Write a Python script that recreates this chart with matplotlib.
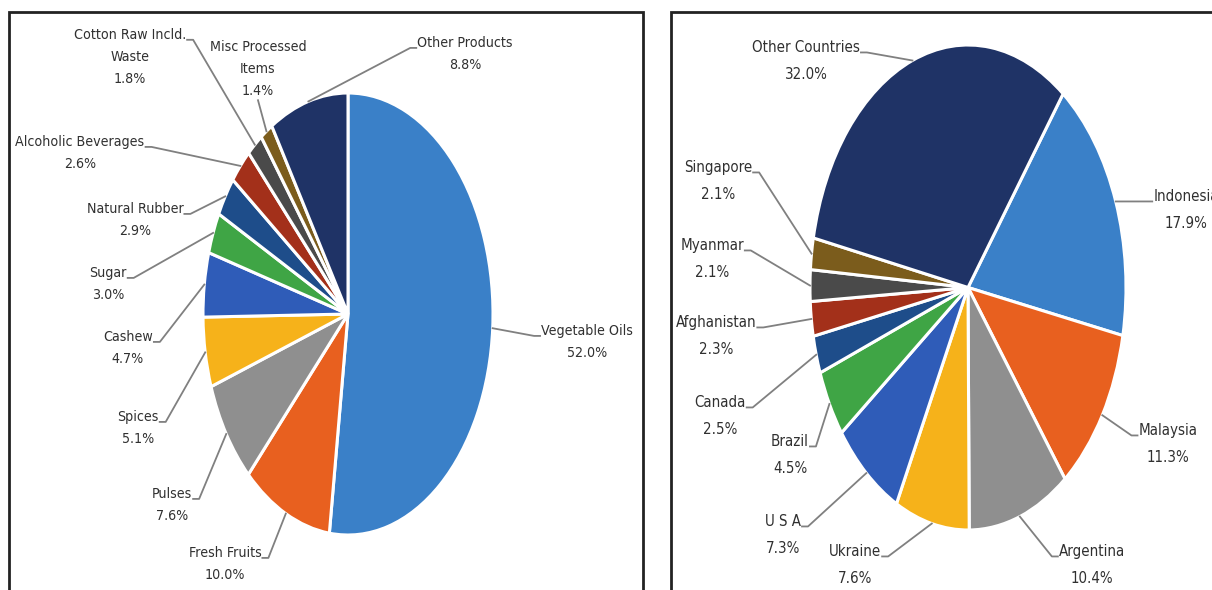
import numpy as np
import matplotlib
matplotlib.use("Agg")
import matplotlib.pyplot as plt
from matplotlib.lines import Line2D
from matplotlib.patches import Rectangle

plt.rcParams['font.family'] = ['Liberation Sans Narrow', 'DejaVu Sans']

# ---- data: left pie (products) ----
prod_names = ["Vegetable Oils", "Fresh Fruits", "Pulses", "Spices", "Cashew", "Sugar",
              "Natural Rubber", "Alcoholic Beverages", "Cotton Raw Incld.\nWaste",
              "Misc Processed\nItems", "Other Products"]
prod_share = [52.0, 10.0, 7.6, 5.1, 4.7, 3.0, 2.9, 2.6, 1.8, 1.4, 8.8]

# ---- data: right pie (countries) ----
ctry_names = ["Indonesia", "Malaysia", "Argentina", "Ukraine", "U S A", "Brazil",
              "Canada", "Afghanistan", "Myanmar", "Singapore", "Other Countries"]
ctry_share = [17.9, 11.3, 10.4, 7.6, 7.3, 4.5, 2.5, 2.3, 2.1, 2.1, 32.0]

colors = ["#3A80C8", "#E8601F", "#8F8F8F", "#F6B21A", "#2F5CB8", "#3FA545",
          "#1E4D8A", "#A3301A", "#4A4A4A", "#7B5C1C", "#1F3366"]

W, H = 1212, 590
fig = plt.figure(figsize=(W / 100, H / 100), dpi=100)

# label layout: (center x, center y) in image pixels, side where leader line attaches
prod_pos = [(587, 342, 'l'), (225, 564, 'r'), (172, 505, 'r'), (138, 428, 'r'),
            (128, 348, 'r'), (108, 284, 'r'), (135, 220, 'r'), (80, 153, 'r'),
            (130, 57, 'r'), (258, 69, 'b'), (465, 54, 'l')]
ctry_pos = [(1186, 210, 'l'), (1168, 444, 'l'), (1092, 565, 'l'), (855, 565, 'r'),
            (783, 535, 'r'), (790, 455, 'r'), (720, 416, 'r'), (716, 336, 'r'),
            (712, 259, 'r'), (718, 181, 'r'), (806, 61, 'r')]


def make_axes(left, top, right, bottom):
    ax = fig.add_axes([left / W, 1 - bottom / H, (right - left) / W, (bottom - top) / H])
    return ax


def draw_pie(ax, values, startangle):
    wedges, _ = ax.pie(values, colors=colors, startangle=startangle, counterclock=False,
                       wedgeprops=dict(edgecolor='white', linewidth=2.2))
    ax.set_aspect('auto')
    ax.set_xlim(-1, 1)
    ax.set_ylim(-1, 1)
    ax.axis('off')
    return wedges


def add_labels(ax, wedges, names, values, pos, fs, ls):
    items = []
    for w, name, v, (x, y, side) in zip(wedges, names, values, pos):
        t = fig.text(x / W, 1 - y / H, f"{name}\n{v:.1f}%", ha='center', va='center',
                     fontsize=fs, color='#303030', linespacing=ls,
                     fontstretch='condensed')
        items.append((w, t, side, fs, ax))
    return items


ax1 = make_axes(203, 93, 493, 535)
w1 = draw_pie(ax1, prod_share, 90)
ax2 = make_axes(810, 45, 1126, 530)
w2 = draw_pie(ax2, ctry_share, 53)

items = add_labels(ax1, w1, prod_names, prod_share, prod_pos, 10.2, 1.75)
items += add_labels(ax2, w2, ctry_names, ctry_share, ctry_pos, 10.8, 2.05)

fig.canvas.draw()
renderer = fig.canvas.get_renderer()
inv = fig.transFigure.inverted()
for w, t, side, fs, ax in items:
    bb = t.get_window_extent(renderer)
    fs_px = fs * 100 / 72
    theta = np.deg2rad((w.theta1 + w.theta2) / 2)
    end = ax.transData.transform((np.cos(theta), np.sin(theta)))
    if side == 'b':
        start = (bb.x0 + bb.width / 2, bb.y0 - 2)
        pts = [start, end]
    else:
        yy = bb.y1 - fs_px * 0.85
        if side == 'r':
            start = (bb.x1 + 1, yy)
            stub = (bb.x1 + 7, yy)
        else:
            start = (bb.x0 - 1, yy)
            stub = (bb.x0 - 7, yy)
        pts = [start, stub, end]
    pts = inv.transform(np.array(pts))
    fig.add_artist(Line2D(pts[:, 0], pts[:, 1], color='#808080', lw=1.3,
                          transform=fig.transFigure))

# panel frames (bottom edge is cropped in the source)
fig.add_artist(Rectangle((9 / W, -0.1), (643 - 9) / W, 1.1 - 12 / H, fill=False,
                         edgecolor='#222222', lw=2, transform=fig.transFigure))
fig.add_artist(Rectangle((671 / W, -0.1), 0.6, 1.1 - 12 / H, fill=False,
                         edgecolor='#222222', lw=2, transform=fig.transFigure))

fig.savefig("out.png", dpi=100, facecolor='white')
